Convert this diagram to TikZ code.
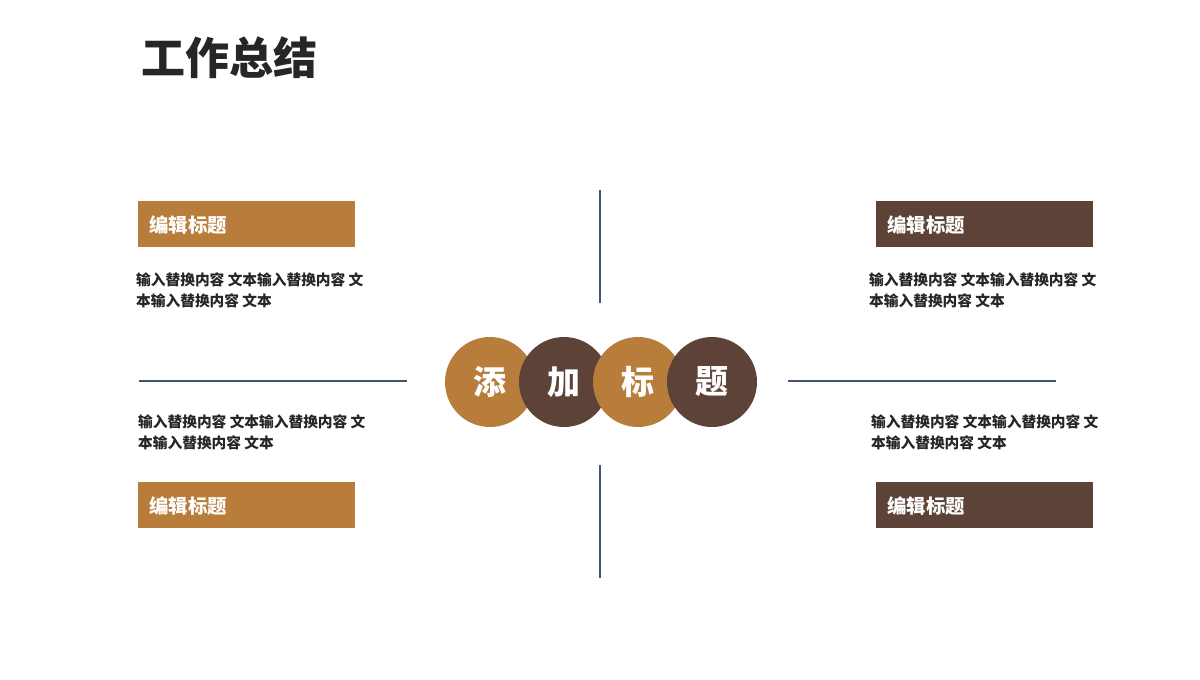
\documentclass[tikz,border=0pt]{standalone}
\usepackage{fontspec}
\newfontfamily\cjk{Noto Sans CJK SC}
\definecolor{orng}{HTML}{B87C3B}
\definecolor{dbrn}{HTML}{5D4337}
\definecolor{lnc}{HTML}{44546A}
\definecolor{ttl}{HTML}{262626}
\begin{document}
\begin{tikzpicture}[x=1pt,y=-1pt,
  hbox/.style={minimum width=217pt,minimum height=46pt,inner sep=0pt,draw=none},
  hlab/.style={anchor=base west,inner sep=0pt,text=white,font=\cjk\bfseries\fontsize{19.4}{24}\selectfont},
  body/.style={anchor=base west,inner sep=0pt,text=ttl,font=\cjk\bfseries\fontsize{14.7}{21}\selectfont},
  ball/.style={circle,minimum size=90pt,inner sep=0pt,text=white,font=\cjk\bfseries\fontsize{33}{36}\selectfont},
  sep/.style={draw=lnc,line width=1.2pt}]
\useasboundingbox (0,0) rectangle (1200,680);
\fill[white] (0,0) rectangle (1200,680);
% title
\node[anchor=base west,inner sep=0pt,text=ttl,font=\cjk\bfseries\fontsize{44}{50}\selectfont] (title) at (141,74) {工作总结};
% boxes
\node[hbox,fill=orng] (b1) at (246.5,224) {};
\node[hbox,fill=dbrn] (b2) at (984,224) {};
\node[hbox,fill=orng] (b3) at (246.5,505) {};
\node[hbox,fill=dbrn] (b4) at (984,505) {};
\node[hlab] (l1) at (149,232) {编辑标题};
\node[hlab] (l2) at (887,232) {编辑标题};
\node[hlab] (l3) at (149,513) {编辑标题};
\node[hlab] (l4) at (887,513) {编辑标题};
% body texts
\node[body] (t1a) at (136,285) {输入替换内容 文本输入替换内容 文};
\node[body] (t1b) at (136,306) {本输入替换内容 文本};
\node[body] (t2a) at (869,285) {输入替换内容 文本输入替换内容 文};
\node[body] (t2b) at (869,306) {本输入替换内容 文本};
\node[body] (t3a) at (138,427) {输入替换内容 文本输入替换内容 文};
\node[body] (t3b) at (138,448) {本输入替换内容 文本};
\node[body] (t4a) at (871,427) {输入替换内容 文本输入替换内容 文};
\node[body] (t4b) at (871,448) {本输入替换内容 文本};
% separators
\coordinate (v1a) at (600,190); \coordinate (v1b) at (600,303);
\coordinate (v2a) at (600,465); \coordinate (v2b) at (600,578);
\coordinate (h1a) at (139,381); \coordinate (h1b) at (407,381);
\coordinate (h2a) at (788,381); \coordinate (h2b) at (1056,381);
\draw[sep] (v1a) -- (v1b);
\draw[sep] (v2a) -- (v2b);
\draw[sep] (h1a) -- (h1b);
\draw[sep] (h2a) -- (h2b);
% circles
\node[ball,fill=orng] (c1) at (490,382) {添};
\node[ball,fill=dbrn] (c2) at (564,382) {加};
\node[ball,fill=orng] (c3) at (638,382) {标};
\node[ball,fill=dbrn] (c4) at (712,382) {题};
\end{tikzpicture}
\end{document}
